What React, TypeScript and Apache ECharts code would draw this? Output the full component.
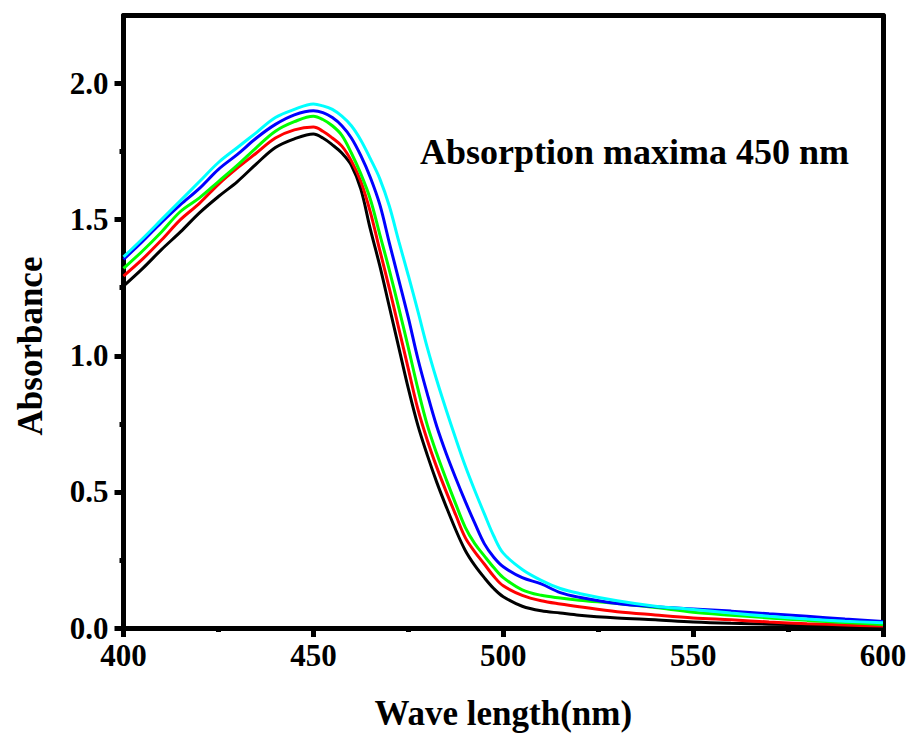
import React, { useEffect, useRef } from "react";
import * as echarts from "echarts";

const wavelengths = [
  400, 405, 410, 415, 420, 425, 430, 435, 440, 445,
  450, 452.5, 455, 457.5, 460, 462.5, 465, 467.5, 470, 472.5, 475, 477.5, 480, 482.5, 485, 487.5, 490, 492.5, 495, 497.5, 500,
  505, 510, 515, 520, 530, 540, 550, 560, 570, 580, 590, 600,
];

const blackValues = [
  1.256, 1.32, 1.39, 1.455, 1.525, 1.585, 1.64, 1.705, 1.765, 1.797,
  1.815, 1.80, 1.775, 1.745, 1.70, 1.612, 1.465, 1.33, 1.18, 1.03, 0.88, 0.745, 0.635, 0.535, 0.445, 0.36, 0.285, 0.23, 0.185, 0.145, 0.115,
  0.08, 0.063, 0.055, 0.047, 0.037, 0.03, 0.022, 0.017, 0.014, 0.012, 0.01, 0.009,
];
const redValues = [
  1.293, 1.355, 1.425, 1.5, 1.56, 1.63, 1.69, 1.745, 1.8, 1.83,
  1.84, 1.825, 1.80, 1.77, 1.716, 1.64, 1.528, 1.387, 1.248, 1.10, 0.952, 0.805, 0.69, 0.59, 0.50, 0.415, 0.332, 0.28, 0.235, 0.19, 0.155,
  0.12, 0.1, 0.088, 0.078, 0.06, 0.048, 0.037, 0.03, 0.022, 0.016, 0.011, 0.007,
];
const greenValues = [
  1.321, 1.385, 1.455, 1.53, 1.58, 1.64, 1.7, 1.765, 1.825, 1.86,
  1.88, 1.868, 1.845, 1.81, 1.745, 1.668, 1.575, 1.445, 1.315, 1.175, 1.03, 0.88, 0.745, 0.64, 0.545, 0.455, 0.37, 0.31, 0.265, 0.222, 0.185,
  0.14, 0.12, 0.11, 0.102, 0.09, 0.075, 0.058, 0.047, 0.037, 0.028, 0.02, 0.013,
];
const blueValues = [
  1.354, 1.42, 1.49, 1.555, 1.615, 1.685, 1.74, 1.8, 1.85, 1.885,
  1.90, 1.893, 1.875, 1.845, 1.80, 1.735, 1.655, 1.555, 1.415, 1.278, 1.14, 0.99, 0.86, 0.74, 0.64, 0.55, 0.465, 0.385, 0.31, 0.26, 0.225,
  0.185, 0.162, 0.13, 0.113, 0.09, 0.078, 0.07, 0.062, 0.052, 0.043, 0.033, 0.024,
];
const cyanValues = [
  1.363, 1.43, 1.5, 1.57, 1.64, 1.71, 1.765, 1.82, 1.875, 1.905,
  1.925, 1.918, 1.905, 1.88, 1.845, 1.792, 1.724, 1.65, 1.55, 1.42, 1.295, 1.165, 1.03, 0.91, 0.80, 0.695, 0.595, 0.505, 0.42, 0.338, 0.275,
  0.215, 0.175, 0.145, 0.127, 0.1, 0.08, 0.068, 0.055, 0.043, 0.033, 0.025, 0.019,
];

const seriesColors = ["#000000", "#ff0000", "#00ff00", "#0000ff", "#00ffff"];
const seriesNames = ["S1", "S2", "S3", "S4", "S5"];
const allValues = [blackValues, redValues, greenValues, blueValues, cyanValues];

const yMajorTicks = [0, 0.5, 1.0, 1.5, 2.0];
const yMinorTicks = [0.25, 0.75, 1.25, 1.75];

const xAxisTitle = "Wave length(nm)";
const yAxisTitle = "Absorbance";
const annotation = "Absorption maxima 450 nm";

const FONT = "'Liberation Serif', 'Times New Roman', serif";

export default function App() {
  const ref = useRef<HTMLDivElement>(null);
  useEffect(() => {
    if (!ref.current) return;
    const chart = echarts.init(ref.current, null, { renderer: "svg" });
    const axisLineStyle = { color: "#000", width: 5 };
    const option: any = {
      animation: false,
      backgroundColor: "#ffffff",
      grid: { left: 123.5, right: 29, top: 15.5, bottom: 112, containLabel: false, outerBoundsMode: "none" },
      xAxis: [
        {
          type: "value",
          min: 400,
          max: 600,
          interval: 50,
          position: "bottom",
          axisLine: { show: true, onZero: false, lineStyle: axisLineStyle },
          axisTick: { show: true, inside: false, length: 9, lineStyle: { width: 5, color: "#000" } },
          minorTick: { show: true, splitNumber: 2, length: 4, lineStyle: { width: 5, color: "#000" } },
          splitLine: { show: false },
          axisLabel: { show: true, margin: 12, color: "#000", fontSize: 31, fontWeight: "bold", fontFamily: FONT },
          name: xAxisTitle,
          nameLocation: "middle",
          nameGap: 68,
          nameTextStyle: { color: "#000", fontSize: 35, fontWeight: "bold", fontFamily: FONT },
        },
        {
          type: "value",
          min: 400,
          max: 600,
          position: "top",
          axisLine: { show: true, onZero: false, lineStyle: axisLineStyle },
          axisTick: { show: false },
          axisLabel: { show: false },
          splitLine: { show: false },
        },
      ],
      yAxis: [
        {
          type: "value",
          min: 0,
          max: 2.25,
          interval: 0.5,
          position: "left",
          axisLine: { show: true, onZero: false, lineStyle: axisLineStyle },
          axisTick: { show: true, inside: false, length: 9, customValues: yMajorTicks, lineStyle: { width: 5, color: "#000" } },
          splitLine: { show: false },
          axisLabel: {
            show: true,
            customValues: yMajorTicks,
            margin: 15,
            color: "#000",
            fontSize: 31,
            fontWeight: "bold",
            fontFamily: FONT,
            formatter: (v: number) => v.toFixed(1),
          },
        },
        {
          type: "value",
          min: 0,
          max: 2.25,
          position: "right",
          axisLine: { show: true, onZero: false, lineStyle: axisLineStyle },
          axisTick: { show: false },
          axisLabel: { show: false },
          splitLine: { show: false },
        },
        {
          type: "value",
          min: 0,
          max: 2.25,
          interval: 0.25,
          position: "left",
          axisLine: { show: false },
          axisTick: { show: true, inside: false, length: 4, customValues: yMinorTicks, lineStyle: { width: 5, color: "#000" } },
          axisLabel: { show: false },
          splitLine: { show: false },
        },
      ],
      graphic: [
        {
          type: "text",
          x: 420,
          y: 152,
          style: {
            text: annotation,
            fill: "#000",
            fontSize: 36,
            fontWeight: "bold",
            fontFamily: FONT,
            textVerticalAlign: "middle",
            textAlign: "left",
          },
        },
        {
          type: "text",
          x: 30,
          y: 346,
          rotation: Math.PI / 2,
          style: {
            text: yAxisTitle,
            fill: "#000",
            fontSize: 35,
            fontWeight: "bold",
            fontFamily: FONT,
            textVerticalAlign: "middle",
            textAlign: "center",
          },
        },
      ],
      series: allValues.map((vals, i) => ({
        name: seriesNames[i],
        type: "line",
        xAxisIndex: 0,
        yAxisIndex: 0,
        smooth: 0.35,
        showSymbol: false,
        symbol: "none",
        lineStyle: { color: seriesColors[i], width: 3 },
        data: wavelengths.map((w, j) => [w, vals[j]]),
        z: 2,
      })),
    };
    chart.setOption(option);
    return () => chart.dispose();
  }, []);
  return (
    <div
      ref={ref}
      style={{ position: "fixed", left: 0, top: 0, width: 912, height: 740, background: "#fff" }}
    />
  );
}
